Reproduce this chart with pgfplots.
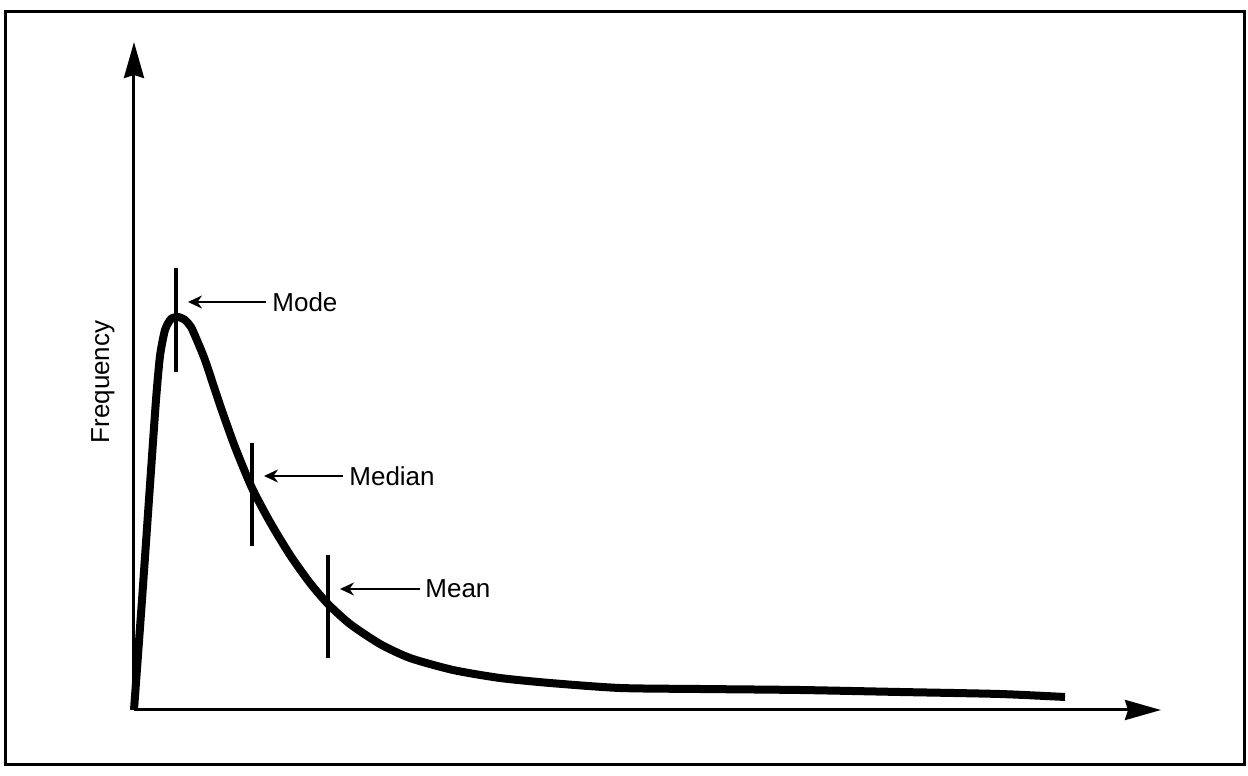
\documentclass[border=0pt]{standalone}
\usepackage{pgfplots}
\pgfplotsset{compat=1.18}
\usepackage{fontspec}
\setmainfont{Liberation Sans}
\usetikzlibrary{arrows.meta}
\begin{document}
\begin{tikzpicture}
\begin{axis}[
  x=0.5pt, y=0.5pt,
  xmin=0, xmax=1027, ymin=0, ymax=668,
  axis lines=left,
  axis line style={line width=1.5pt, -{Stealth[length=18pt,width=10pt,inset=1.5pt]}},
  ticks=none,
  clip=false,
]
\path (axis cs:-134,-66) rectangle (axis cs:1114,710);
\draw[line width=1.5pt] (axis cs:-128,-55) rectangle (axis cs:1110,698);
\addplot[black, line width=4pt, smooth, tension=0.4, line join=round] coordinates {
(0,0) (8,110) (16,225) (22,310) (26,354) (31,380) (37,391) (44,393)
(51,390) (57,383) (62,372)
(71,350) (86,305) (101,263) (118,222) (136,188) (156,155) (176,127)
(194,106) (216,86) (246,66) (276,52) (319,40) (366,32) (416,27)
(486,22) (566,21) (666,20) (766,18) (866,16) (931,13)
};
\addplot[black, line width=2pt] coordinates {(42,442) (42,338)};
\addplot[black, line width=2pt] coordinates {(118,267) (118,164)};
\addplot[black, line width=2pt] coordinates {(194,155) (194,52)};
\draw[line width=1.4pt, -{Stealth[length=7pt,width=6.5pt]}] (axis cs:132,408) -- (axis cs:54,408);
\draw[line width=1.4pt, -{Stealth[length=7pt,width=6.5pt]}] (axis cs:209,234) -- (axis cs:130,234);
\draw[line width=1.4pt, -{Stealth[length=7pt,width=6.5pt]}] (axis cs:286,121) -- (axis cs:206,121);
\node[anchor=west, inner sep=0pt, font=\fontsize{13}{15}\selectfont] at (axis cs:138,408) {Mode};
\node[anchor=west, inner sep=0pt, font=\fontsize{13}{15}\selectfont] at (axis cs:215,234) {Median};
\node[anchor=west, inner sep=0pt, font=\fontsize{13}{15}\selectfont] at (axis cs:291,121) {Mean};
\node[rotate=90, inner sep=0pt, font=\fontsize{13}{15}\selectfont] at (axis cs:-31,328) {Frequency};
\end{axis}
\end{tikzpicture}
\end{document}
